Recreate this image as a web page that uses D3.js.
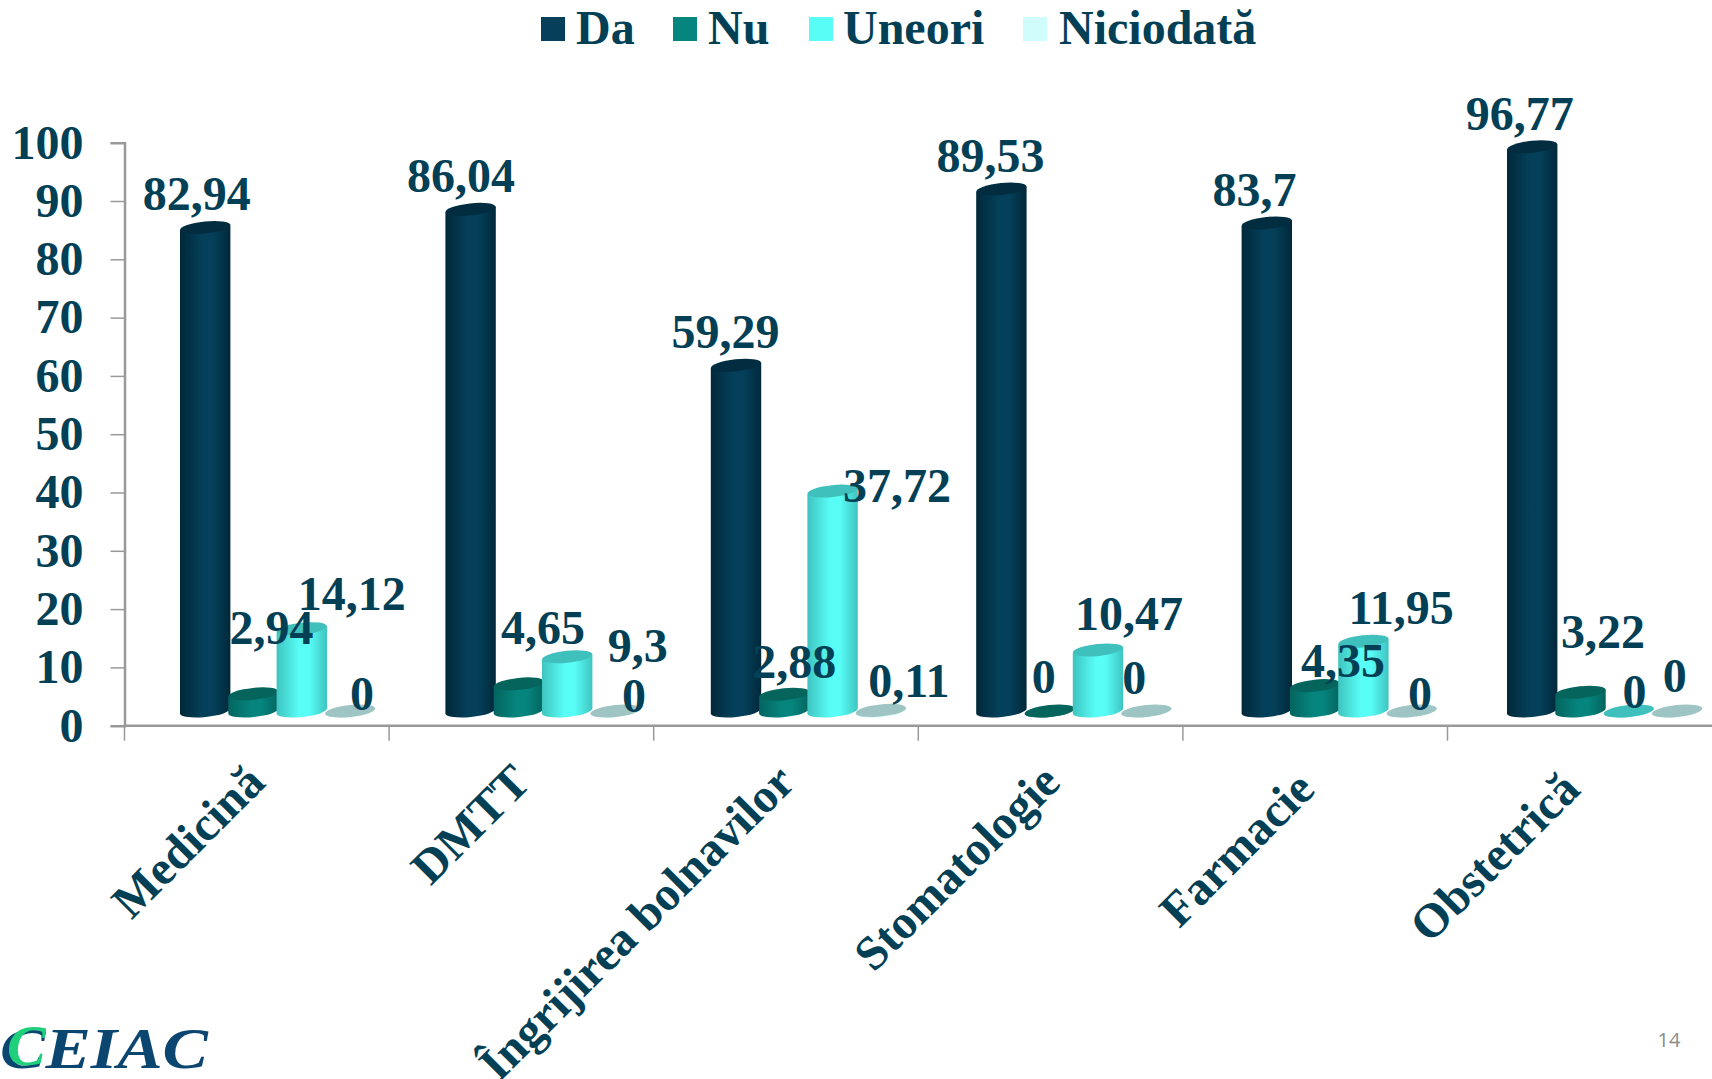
<!DOCTYPE html>
<html>
<head>
<meta charset="utf-8">
<script src="https://cdnjs.cloudflare.com/ajax/libs/d3/7.8.5/d3.min.js"></script>
<style>
body{margin:0;background:#fff;overflow:hidden;}
text{font-family:"Liberation Serif",serif;font-weight:bold;fill:#033f55;}
</style>
</head>
<body>
<script>
const categories = ["Medicină","DMTT","Îngrijirea bolnavilor","Stomatologie","Farmacie","Obstetrică"];
const seriesNames = ["Da","Nu","Uneori","Niciodată"];
const da = [82.94,86.04,59.29,89.53,83.7,96.77];
const nu = [2.94,4.65,2.88,0,4.35,3.22];
const uneori = [14.12,9.3,37.72,10.47,11.95,0];
const niciodata = [0,0,0.11,0,0,0];
const yTicks = [0,10,20,30,40,50,60,70,80,90,100];

const seriesValues = [da,nu,uneori,niciodata];
const fills = ["#04405a","#05857d","#58fdf6","#d0fdfc"];
const edges = ["#01283a","#04645f","#3fc4c0","#a8d8d8"];
const caps = ["#022c3f","#05655d","#40c0bc","#9fc4c4"];

const width = 1712, height = 1079;
const margin = {left:124.5, bottom:353.3};
const baseY = height - margin.bottom;
const unit = 5.83;
const depth = 14.7; // the cylinders stand a little behind the axis line
const rx = 25.2, ry = 6, tilt = -6;

// label nudges per series, per category [dx,dy]
const labelShift = [
	[[-8.5,-17],[18,-50],[50,-19],[12,-1]],
	[[-9.5,-17],[24.1,-40],[70.5,5],[18.5,1]],
	[[-10.5,-17.5],[10,-16],[64.5,10.5],[28,-13]],
	[[-11,-17],[-6,-18],[31,-20],[-12,-17]],
	[[-12.2,-17],[27.8,-9],[37.8,-17],[8.3,-1]],
	[[-12.4,-17],[22.6,-44],[5.6,-3.5],[-2.4,-19]]
];
const catShift = [[0,11],[0,11],[-1,11],[-1,11],[-12,18],[-12,18]];

const svg = d3.select("body").append("svg")
	.attr("width",width)
	.attr("height",height)
	.style("display","block");

const defs = svg.append("defs");
fills.forEach((c,i)=>{
	const g = defs.append("linearGradient").attr("id","cyl"+i);
	g.append("stop").attr("offset","0%").attr("stop-color",edges[i]);
	g.append("stop").attr("offset","45%").attr("stop-color",c);
	g.append("stop").attr("offset","65%").attr("stop-color",c);
	g.append("stop").attr("offset","100%").attr("stop-color",edges[i]);
});

const x = d3.scaleBand()
	.domain(categories)
	.range([margin.left,margin.left+265.4*categories.length]);
const xTick = d3.scaleBand()
	.domain(categories)
	.range([margin.left,margin.left+264.6*categories.length]);
const xInner = d3.scaleBand()
	.domain(seriesNames)
	.range([55.5,55.5+48.3*seriesNames.length]);
const y = d3.scaleLinear()
	.domain([0,100])
	.range([baseY,baseY-unit*100]);

//y axis
const yAxis = svg.append("g")
	.attr("transform","translate("+margin.left+",0)")
	.call(d3.axisLeft(y).tickValues(yTicks).tickSize(14).tickPadding(27));
yAxis.select(".domain").attr("stroke","#999").attr("stroke-width",2.5);
yAxis.selectAll("line").attr("stroke","#999").attr("stroke-width",1.5);
yAxis.selectAll("text")
	.style("font-family",'"Liberation Serif",serif')
	.style("font-size","48px")
	.style("font-weight","bold")
	.attr("dy","0.32em")
	.attr("fill","#033f55");

//x axis, ticks sit on the band edges
const xAxisG = svg.append("g");
xAxisG.append("line")
	.attr("x1",margin.left).attr("x2",width)
	.attr("y1",baseY).attr("y2",baseY)
	.attr("stroke","#999").attr("stroke-width",2.5);
xAxisG.selectAll(".tick")
	.data(categories)
	.enter().append("line")
	.attr("x1",d=>xTick(d)).attr("x2",d=>xTick(d))
	.attr("y1",baseY).attr("y2",baseY+15)
	.attr("stroke","#999").attr("stroke-width",1.5);

xAxisG.selectAll(".cat")
	.data(categories)
	.enter().append("text")
	.attr("class","cat")
	.attr("text-anchor","end")
	.attr("font-size",48)
	.attr("transform",(d,i)=>"translate("+(x(d)+x.bandwidth()/2+10+catShift[i][0])+","+(baseY+48+catShift[i][1])+") rotate(-45)")
	.text(d=>d);

//cylinders
const slope = rx*Math.sin(-tilt*Math.PI/180);
function body(x0,top,bottom){
	const x1 = x0+rx*2;
	return "M"+x0+","+(top+slope)+"L"+x0+","+(bottom+slope)+
		"A"+rx+","+ry+" "+tilt+" 0 0 "+x1+","+(bottom-slope)+
		"L"+x1+","+(top-slope)+"Z";
}

categories.forEach((cat,ci)=>{
	const g = svg.append("g").attr("transform","translate("+x(cat)+",0)");
	seriesNames.forEach((name,si)=>{
		const v = seriesValues[si][ci];
		const x0 = xInner(name);
		const top = y(v)-depth, bottom = y(0)-depth;
		g.append("path")
			.attr("d",body(x0,top,bottom))
			.attr("fill","url(#cyl"+si+")");
		g.append("ellipse")
			.attr("rx",rx).attr("ry",ry)
			.attr("transform","translate("+(x0+rx)+","+top+") rotate("+tilt+")")
			.attr("fill",caps[si]);
	});
});

//data labels go on top of every cylinder
categories.forEach((cat,ci)=>{
	seriesNames.forEach((name,si)=>{
		const v = seriesValues[si][ci];
		const s = labelShift[ci][si];
		svg.append("text")
			.attr("text-anchor","middle")
			.attr("font-size",48)
			.attr("x",x(cat)+xInner(name)+rx+s[0])
			.attr("y",y(v)-depth+s[1])
			.text(String(v).replace(".",","));
	});
});

//legend
const legendSwatch = [541,673,809,1023];
const legendText = [576,708,843,1059];
seriesNames.forEach((name,i)=>{
	svg.append("rect")
		.attr("x",legendSwatch[i]).attr("y",17)
		.attr("width",24).attr("height",24)
		.attr("fill",fills[i]);
	svg.append("text")
		.attr("x",legendText[i]).attr("y",44)
		.attr("font-size",48)
		.text(name);
});

//logo and page number
svg.append("text")
	.attr("x",0).attr("y",1068)
	.attr("font-size",58).attr("font-style","italic")
	.attr("textLength",208).attr("lengthAdjust","spacingAndGlyphs")
	.style("fill","#0a4670")
	.text("CEIAC");
svg.append("text")
	.attr("x",7).attr("y",1065)
	.attr("font-size",58).attr("font-style","italic")
	.style("fill","#1fd07a")
	.text("C");
svg.append("text")
	.attr("x",1669).attr("y",1047)
	.attr("text-anchor","middle")
	.attr("font-size",20)
	.style("font-family",'"Open Sans",sans-serif')
	.style("font-weight","normal")
	.style("fill","#8c8c8c")
	.text("14");
</script>
</body>
</html>
